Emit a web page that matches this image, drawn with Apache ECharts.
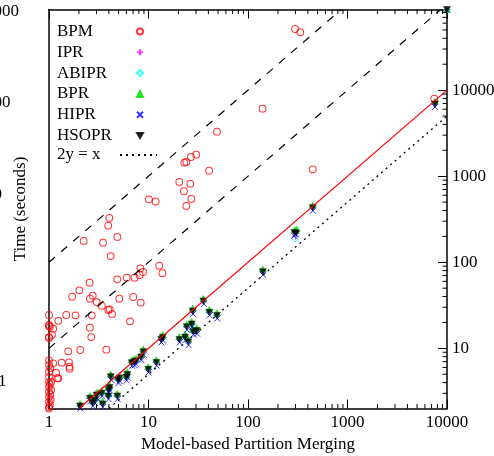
<!DOCTYPE html>
<html><head><meta charset="utf-8">
<script src="https://cdn.jsdelivr.net/npm/echarts@6/dist/echarts.min.js"></script>
<style>html,body{margin:0;padding:0;background:#fff}#c{width:494px;height:456px}</style>
</head><body><div id="c"></div>
<script>
// ---- tick labels ----
const xTickLabels = [1, 10, 100, 1000, 10000];
const yTickLabels = [10, 100, 1000, 10000];
const xRange = [1, 10000];
const yRange = [2, 86400];

// ---- series values [Model-based Partition Merging, Time] ----
const bpm = [
  [297,51300],[335,47000],[140,6080],[48.8,3290],[30.2,1778],[26.7,1671],[24.0,1462],[22.9,1436],[40.6,1158],[447,1202],
  [20.4,857],[26.3,818],[22.7,668],[10.1,539],[11.8,508],[27.0,544],[24.0,451],[7450,7950],
  [4.04,327],[3.94,266],[2.23,177],[3.49,169],[4.86,197],[4.17,118],[12.8,91.2],[13.8,74.5],[8.27,85.1],[8.81,77.1],[8.16,71.1],
  [2.56,57.9],[4.86,63.4],[6.04,66.2],[7.26,66.2],
  [2.02,47.2],[1.71,39.8],[2.75,40.9],[2.58,37.7],[3.02,34.5],[5.09,37.7],[7.03,39.5],[8.35,33.9],[3.39,31.3],[3.94,27.9],[4.07,28.4],[4.30,25.1],[2.69,24.2],
  [1,24.4],[1.24,20.9],[1.49,24.4],[1.85,24.2],[1,18.7],[1.10,16.9],[2.58,17.4],[6.52,20.6],[1,13.5],[1.07,14.3],[2.66,13.5],[2.06,9.57],[1.56,9.24],[3.77,9.64],
  [1,7.26],[1.10,6.70],[1.34,6.81],[1.59,6.88],[1.61,6.12],[1.61,5.80],[1.18,5.17],[1.21,4.49],[1.24,4.49],
  [1,6.40],[1,5.31],[1,4.65],[1,4.06],[1,3.56],[1,3.11],[1,2.72],[1,2.38],[1,2.08],[1,2.0],[1.05,4.06],[1.05,3.28],[1.04,2.51],
  [1,18.2],[1.02,17.8],[1,13.2],[1.03,5.9],[1.02,3.8],[1.03,2.9],[1.02,2.2]
];
const ipr = [
  [2.05,2.14],[2.58,2.63],[2.74,2.32],[2.9,2.5],[3.02,2.87],[3.39,3.01],[3.46,2.26],[3.94,2.79],[4.06,3.51],[3.98,3.3],[4.17,4.68],[4.86,2.79],
  [5.11,4.52],[4.95,4.3],[6.12,4.97],[6.0,4.6],[6.78,6.81],[7.2,6.9],[7.49,7.13],[8.41,7.93],[8.87,9.14],[9.95,5.70],[12.0,6.84],[13.4,12.7],
  [13.9,13.4],[20.4,12.7],[23.3,13.5],[25.1,11.9],[24.2,17.8],[27.2,19.2],[28.2,15.6],[30.5,16.1],[27.8,27.2],[35.6,35.5],[40.8,26.3],[48.8,24.1],
  [141,77.6],[300,200],[305,218],[447,431],[7570,6900],[10000,86400]
];
const abipr = [
  [2.05,2.14],[2.58,2.63],[2.74,2.32],[2.9,2.5],[3.02,2.87],[3.39,3.01],[3.46,2.26],[3.94,2.79],[4.06,3.51],[3.98,3.3],[4.17,4.68],[4.86,2.79],
  [5.11,4.52],[4.95,4.3],[6.12,4.97],[6.0,4.6],[6.78,6.81],[7.2,6.9],[7.49,7.13],[8.41,7.93],[8.87,9.14],[9.95,5.70],[12.0,7.03],[13.4,12.7],
  [13.9,13.4],[20.4,12.7],[23.3,13.5],[25.1,11.9],[24.2,17.8],[27.2,19.2],[28.2,15.6],[30.5,16.1],[27.8,27.2],[35.6,35.5],[40.8,26.3],[48.8,24.1],
  [141,77.6],[297,186],[305,218],[447,431],[7570,6900],[10000,86400]
];
const bpr = [
  [2.05,2.3],[2.58,2.84],[2.74,2.5],[2.9,2.7],[3.02,3.1],[3.39,3.25],[3.46,2.44],[3.94,3.0],[4.06,3.79],[3.98,3.56],[4.17,5.05],[4.86,3.0],
  [5.11,4.88],[4.95,4.64],[6.12,5.37],[6.0,4.97],[6.78,7.35],[7.2,7.45],[7.49,7.7],[8.41,8.56],[8.87,9.87],[9.95,6.16],[12.0,7.39],[13.4,13.7],
  [13.9,14.5],[20.4,13.7],[23.3,14.6],[25.1,12.9],[24.2,19.2],[27.2,20.7],[28.2,16.8],[30.5,17.4],[27.8,29.4],[35.6,38.3],[40.8,28.4],[48.8,26.0],
  [141,83.8],[293,239],[307,245],[447,465],[7570,7450],[10000,86400]
];
const hipr = [
  [2.07,2.0],[2.6,2.42],[2.76,2.13],[2.92,2.3],[3.05,2.64],[3.42,2.77],[3.48,2.08],[3.97,2.57],[4.1,3.23],[4.0,3.04],[4.2,4.31],[4.9,2.57],
  [5.15,4.16],[5.0,3.96],[6.18,4.57],[6.05,4.23],[6.85,6.27],[7.25,6.35],[7.55,6.56],[8.5,7.3],[8.95,8.41],[10.0,5.24],[12.1,6.29],[13.5,11.7],
  [14.0,12.3],[20.6,11.7],[23.5,12.4],[25.3,10.9],[24.4,16.4],[27.4,17.7],[28.4,14.4],[30.8,14.8],[28.0,25.0],[35.9,32.7],[41.1,24.2],[49.2,22.2],
  [142,71.4],[290,203],[300,211],[449,397],[7570,6350],[10000,86400]
];
const hsopr = [
  [2.05,2.14],[2.58,2.63],[2.74,2.32],[2.9,2.5],[3.02,2.87],[3.39,3.01],[3.46,2.26],[3.94,2.79],[4.06,3.51],[3.98,3.3],[4.17,4.68],[4.86,2.79],
  [5.11,4.52],[4.95,4.3],[6.12,4.97],[6.0,4.6],[6.78,6.81],[7.2,6.9],[7.49,7.13],[8.41,7.93],[8.87,9.14],[9.95,5.70],[12.0,6.84],[13.4,12.7],
  [13.9,13.4],[20.4,12.7],[23.3,13.5],[25.1,11.9],[24.2,17.8],[27.2,19.2],[28.2,15.6],[30.5,16.1],[27.8,27.2],[35.6,35.5],[40.8,26.3],[48.8,24.1],
  [141,77.6],[293,221],[305,218],[447,431],[7570,6900],[10000,86400]
];
// reference lines: y = 100x, y = 10x, y = x, 2y = x
const line100x = [[1,100],[864,86400]];
const line10x = [[1,10],[8640,86400]];
const lineX = [[2,2],[10000,10000]];
const lineHalf = [[4,2],[10000,5000]];

// minor tick positions (2..9 within each decade)
const xMinor = [], yMinor = [];
for (let d = 1; d <= 1000; d *= 10) for (let k = 2; k <= 9; k++) xMinor.push(k * d);
for (let d = 1; d <= 10000; d *= 10) for (let k = 2; k <= 9; k++) { const v = k * d; if (v > yRange[0] && v < yRange[1]) yMinor.push(v); }

const FONT = 'Liberation Serif';
const chart = echarts.init(document.getElementById('c'), null, {renderer: 'canvas'});

function fmt(list) { return v => { const r = Math.round(v); return list.includes(r) ? String(r) : ''; }; }
const lblStyle = {fontFamily: FONT, fontSize: 17, color: '#000'};

const xAxisBase = {
  type: 'log', logBase: 10, min: xRange[0], max: xRange[1],
  axisLine: {show: true, onZero: false, lineStyle: {color: '#000', width: 1.5}},
  axisTick: {show: true, inside: true, length: 9, lineStyle: {color: '#000', width: 1}},
  splitLine: {show: false}, minorTick: {show: false}
};
const yAxisBase = {
  type: 'log', logBase: 10, min: yRange[0], max: yRange[1],
  axisLine: {show: true, onZero: false, lineStyle: {color: '#000', width: 1.5}},
  splitLine: {show: false}, minorTick: {show: false}
};

const scatterBase = {type: 'scatter', xAxisIndex: 0, yAxisIndex: 0, clip: false};
const legendText = w => ({fontFamily: FONT, fontSize: 17, color: '#000', lineHeight: 17,
  rich: {t: {width: w, align: 'left', fontFamily: FONT, fontSize: 17, color: '#000', lineHeight: 17}}});

chart.setOption({
  animation: false,
  backgroundColor: '#fff',
  grid: {left: 49, right: 47, top: 9.5, bottom: 47.5, outerBoundsMode: 'none', containLabel: false},
  xAxis: [
    Object.assign({}, xAxisBase, {
      position: 'bottom',
      axisLabel: Object.assign({show: true, margin: 6, formatter: fmt(xTickLabels)}, lblStyle),
      name: 'Model-based Partition Merging', nameLocation: 'middle', nameGap: 25,
      nameTextStyle: lblStyle
    }),
    Object.assign({}, xAxisBase, {position: 'top', axisLabel: {show: false}})
  ],
  yAxis: [
    Object.assign({}, yAxisBase, {
      position: 'right',
      axisTick: {show: true, inside: true, length: 9, lineStyle: {color: '#000', width: 1}},
      axisLabel: Object.assign({show: true, margin: 5, showMinLabel: false, showMaxLabel: false, formatter: fmt(yTickLabels)}, lblStyle)
    }),
    Object.assign({}, yAxisBase, {
      position: 'left',
      axisTick: {show: false}, axisLabel: {show: false},
      name: 'Time (seconds)', nameLocation: 'middle', nameGap: 20, nameRotate: 90,
      nameTextStyle: lblStyle
    })
  ],
  legend: [
    {
      data: ['BPM', 'IPR', 'ABIPR', 'BPR', 'HIPR', 'HSOPR'],
      orient: 'vertical', left: 57, top: 23, align: 'right', padding: 0,
      itemWidth: 6, itemHeight: 6, itemGap: 3.8, selectedMode: false,
      textStyle: legendText(75),
      formatter: n => '{t|' + n + '}'
    },
    {
      data: ['2y = x'],
      orient: 'vertical', left: 57, top: 146.5, align: 'right', padding: 0,
      itemWidth: 37, itemHeight: 8, selectedMode: false,
      itemStyle: {opacity: 0},
      textStyle: legendText(58),
      formatter: n => '{t|' + n + '}'
    }
  ],
  graphic: [
    {type: 'text', left: -23.5, top: 3, style: {text: '10000', font: '17px "Liberation Serif"', fill: '#000'}},
    {type: 'text', left: -23.5, top: 94, style: {text: '1000', font: '17px "Liberation Serif"', fill: '#000'}},
    {type: 'text', left: -23.5, top: 186, style: {text: '100', font: '17px "Liberation Serif"', fill: '#000'}},
    {type: 'text', left: -2, top: 373, style: {text: '1', font: '17px "Liberation Serif"', fill: '#000'}}
  ],
  series: [
    {type: 'line', name: 'y=100x', data: line100x, xAxisIndex: 0, yAxisIndex: 0, showSymbol: false, symbol: 'none', silent: true,
      lineStyle: {color: '#000', width: 1.2, type: [8, 8]}},
    {type: 'line', name: 'y=10x', data: line10x, xAxisIndex: 0, yAxisIndex: 0, showSymbol: false, symbol: 'none', silent: true,
      lineStyle: {color: '#000', width: 1.2, type: [8, 8]}},
    {type: 'line', name: 'y=x', data: lineX, xAxisIndex: 0, yAxisIndex: 0, showSymbol: false, symbol: 'none', silent: true,
      lineStyle: {color: '#ff0000', width: 1.2, type: 'solid'}},
    {type: 'line', name: '2y = x', data: lineHalf, xAxisIndex: 0, yAxisIndex: 0, showSymbol: false, symbol: 'none', silent: true,
      itemStyle: {color: '#000'},
      lineStyle: {color: '#000', width: 1.3, type: [2, 4]}},
    Object.assign({}, scatterBase, {name: 'BPM', data: bpm, symbol: 'circle', symbolSize: 6.8,
      itemStyle: {color: 'rgba(0,0,0,0)', borderColor: '#ff0000', borderWidth: 1}}),
    Object.assign({}, scatterBase, {name: 'IPR', data: ipr, symbol: 'path://M5,0L5,10M0,5L10,5', symbolSize: 7,
      itemStyle: {color: 'rgba(0,0,0,0)', borderColor: '#ff00ff', borderWidth: 1}}),
    Object.assign({}, scatterBase, {name: 'ABIPR', data: abipr, symbol: 'diamond', symbolSize: 6,
      itemStyle: {color: 'rgba(0,0,0,0)', borderColor: '#00ffff', borderWidth: 1}}),
    Object.assign({}, scatterBase, {name: 'BPR', data: bpr, symbol: 'triangle', symbolSize: [7, 6],
      itemStyle: {color: '#00e000', borderColor: '#00e000', borderWidth: 0.5}}),
    Object.assign({}, scatterBase, {name: 'HIPR', data: hipr, symbol: 'path://M0,0L10,10M10,0L0,10', symbolSize: 6,
      itemStyle: {color: 'rgba(0,0,0,0)', borderColor: '#0000ff', borderWidth: 1}}),
    Object.assign({}, scatterBase, {name: 'HSOPR', data: hsopr, symbol: 'path://M0,0L10,0L5,8.6Z', symbolSize: [7, 6],
      itemStyle: {color: '#000', borderColor: '#000', borderWidth: 0.5}}),
    {type: 'custom', name: '_xminor', xAxisIndex: 0, yAxisIndex: 0, silent: true, z: 5, clip: false,
      data: xMinor.map(v => [v, 100]),
      renderItem: (params, api) => {
        const x = api.coord([api.value(0), 100])[0];
        const cs = params.coordSys;
        const b = cs.y + cs.height;
        return {type: 'group', children: [
          {type: 'line', shape: {x1: x, y1: b, x2: x, y2: b - 4.5}, style: {stroke: '#000', lineWidth: 1}},
          {type: 'line', shape: {x1: x, y1: cs.y, x2: x, y2: cs.y + 4.5}, style: {stroke: '#000', lineWidth: 1}}
        ]};
      }},
    {type: 'custom', name: '_yminor', xAxisIndex: 0, yAxisIndex: 0, silent: true, z: 5, clip: false,
      data: yMinor.map(v => [10, v]),
      renderItem: (params, api) => {
        const y = api.coord([10, api.value(1)])[1];
        const cs = params.coordSys;
        const r = cs.x + cs.width;
        return {type: 'line', shape: {x1: r, y1: y, x2: r - 4.5, y2: y}, style: {stroke: '#000', lineWidth: 1}};
      }}
  ]
});
</script>
</body></html>
